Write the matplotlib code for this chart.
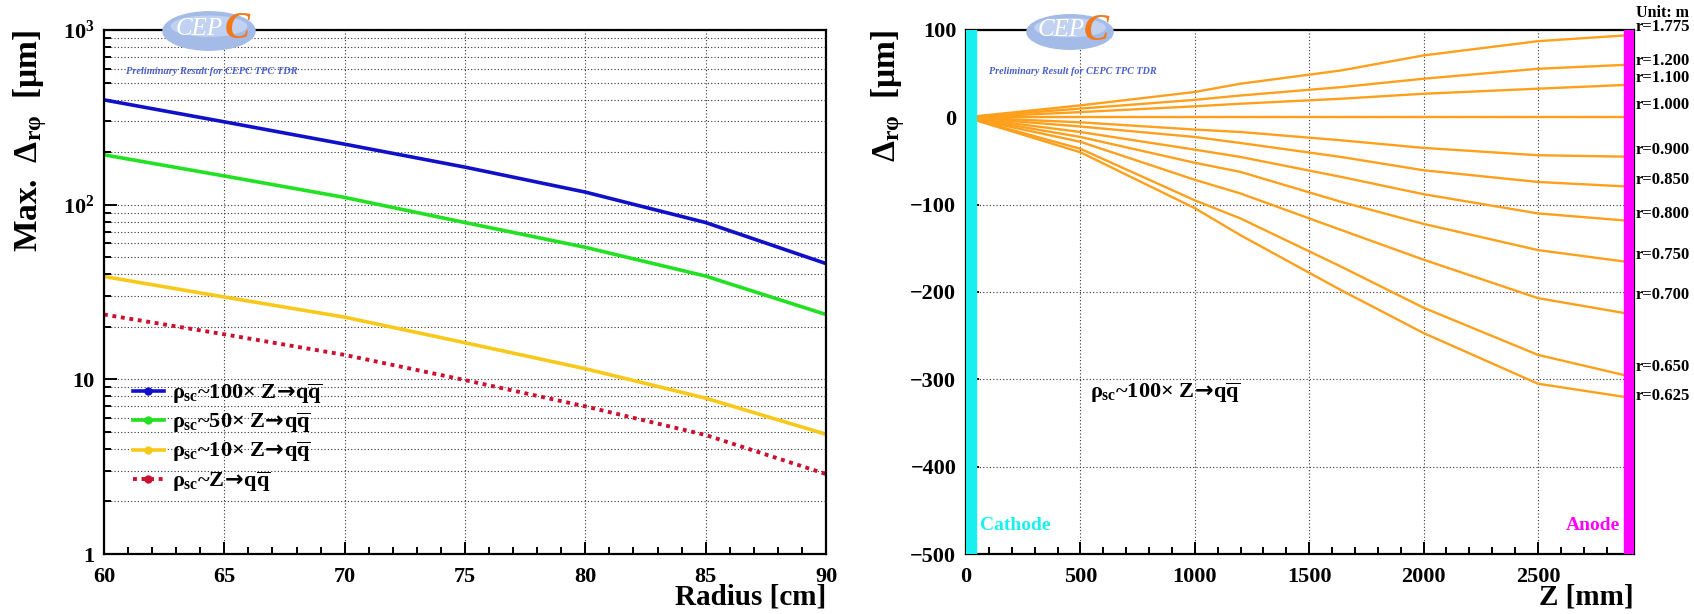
import matplotlib
matplotlib.use('Agg')
import matplotlib.pyplot as plt
from matplotlib.patches import Ellipse
from matplotlib.lines import Line2D
from matplotlib.ticker import MultipleLocator, LogLocator, FixedLocator, FixedFormatter, NullFormatter

plt.rcParams['font.family'] = ['Liberation Serif', 'DejaVu Serif']
plt.rcParams['font.weight'] = 'bold'
plt.rcParams['mathtext.fontset'] = 'custom'
plt.rcParams['mathtext.rm'] = 'Liberation Serif:bold'
plt.rcParams['mathtext.it'] = 'Liberation Serif:bold'
plt.rcParams['mathtext.bf'] = 'Liberation Serif:bold'
plt.rcParams['mathtext.sf'] = 'DejaVu Sans:bold'

ARROW = r'$\!\mathsf{\rightarrow}\!$'

# ---- left panel: max distortion vs radius ----
radius = [60, 65, 70, 75, 80, 85, 90]
max_100x = [398, 298, 222, 164, 118, 79, 46]
max_50x = [193, 146, 110, 79, 57, 39, 23.5]
max_10x = [38.8, 29.6, 22.7, 16.2, 11.5, 7.8, 4.85]
max_1x = [23.5, 18.1, 13.8, 9.9, 7.0, 4.8, 2.87]
legend_labels = [
    r'$\rho_{sc}$~100× Z' + ARROW + r'q$\overline{q}$',
    r'$\rho_{sc}$~50× Z' + ARROW + r'q$\overline{q}$',
    r'$\rho_{sc}$~10× Z' + ARROW + r'q$\overline{q}$',
    r'$\rho_{sc}$~Z' + ARROW + r'q$\overline{q}$',
]

# ---- right panel: distortion vs drift length for several radii ----
z_mm = [0, 500, 1000, 1200, 1640, 2000, 2500, 2875]
r_labels = ['r=1.775', 'r=1.200', 'r=1.100', 'r=1.000', 'r=0.900', 'r=0.850',
            'r=0.800', 'r=0.750', 'r=0.700', 'r=0.650', 'r=0.625']
r_label_y = [103, 65, 44.6, 13.7, -37.7, -72, -111, -158, -203, -286, -319]
d_1775 = [0, 13.7, 29, 38.5, 53.7, 70.9, 87.2, 93.7]
d_1200 = [0, 10, 20, 25, 34.6, 44.2, 55.6, 60]
d_1100 = [0, 6, 12.6, 15.6, 21.3, 27, 32.8, 37]
d_1000 = [0, 0, 0, 0, 0, 0, 0, 0]
d_0900 = [0, -5.7, -14, -16.8, -26.3, -35, -43.4, -45]
d_0850 = [0, -10.5, -22.5, -29.4, -45.4, -60.6, -74, -79]
d_0800 = [0, -16.8, -37, -45.4, -68.2, -88, -110, -118]
d_0750 = [0, -22.5, -52, -62.5, -96.8, -122, -152, -165]
d_0700 = [0, -28, -71.5, -87.2, -129, -163, -207, -224]
d_0650 = [0, -36, -95, -115.8, -171, -218, -272, -295]
d_0625 = [0, -40, -104, -135, -198, -247, -305, -320]
curves = [d_1775, d_1200, d_1100, d_1000, d_0900, d_0850,
          d_0800, d_0750, d_0700, d_0650, d_0625]

W, H = 1694, 614
fig = plt.figure(figsize=(W / 100, H / 100), dpi=100)


def px_axes(x0, x1, y0, y1):
    return fig.add_axes([x0 / W, 1 - y1 / H, (x1 - x0) / W, (y1 - y0) / H])


def style_axes(ax):
    for s in ax.spines.values():
        s.set_linewidth(1.6)
    ax.tick_params(which='both', direction='in', width=1.4, top=False, right=False,
                   labelsize=16)
    ax.tick_params(which='major', length=9)
    ax.tick_params(which='minor', length=5)
    ax.tick_params(axis='x', which='major', pad=9)
    ax.tick_params(axis='y', which='major', pad=7)
    for lab in ax.get_xticklabels() + ax.get_yticklabels():
        lab.set_fontweight('bold')


def add_logo(cx, cy, w, h):
    lax = fig.add_axes([(cx - w / 2) / W, 1 - (cy + h / 2) / H, w / W, h / H])
    lax.set_xlim(0, 1)
    lax.set_ylim(0, 1)
    lax.axis('off')
    lax.add_patch(Ellipse((0.5, 0.5), 0.98, 0.96, color='#a4bbe8'))
    lax.add_patch(Ellipse((0.5, 0.62), 0.8, 0.5, color='#c0d1f2'))
    lax.text(0.40, 0.55, 'CEP', color='white', style='italic', fontweight='normal',
             fontsize=18, ha='center', va='center')
    lax.text(0.80, 0.55, 'C', color='#f07a1a', style='italic', fontweight='bold',
             fontsize=27, ha='center', va='center')


# left
ax1 = px_axes(104, 826, 30, 554)
ax1.set_yscale('log')
ax1.plot(radius, max_100x, color='#1010c8', lw=2.6)
ax1.plot(radius, max_50x, color='#22e022', lw=2.6)
ax1.plot(radius, max_10x, color='#f8c81a', lw=2.6)
ax1.plot(radius, max_1x, color='#cc1030', lw=2.8, ls=(0, (1, 1.2)))
ax1.set_xlim(60, 90)
ax1.set_ylim(1, 1000)
ax1.xaxis.set_major_locator(MultipleLocator(5))
ax1.xaxis.set_minor_locator(MultipleLocator(1))
ax1.yaxis.set_major_locator(FixedLocator([1, 10, 100, 1000]))
ax1.yaxis.set_major_formatter(FixedFormatter(['1', '10', r'$10^2$', r'$10^3$']))
ax1.yaxis.set_minor_locator(LogLocator(base=10, subs=range(2, 10)))
ax1.yaxis.set_minor_formatter(NullFormatter())
ax1.grid(True, which='major', axis='x', color='#333333', ls=(0, (1, 2)), lw=0.8)
ax1.grid(True, which='both', axis='y', color='#333333', ls=(0, (1, 2)), lw=0.8)
style_axes(ax1)
ax1.set_xlabel('Radius [cm]', fontsize=21, fontweight='bold', loc='right', va='bottom')
ax1.xaxis.set_label_coords(1.0, -0.108)
ax1.set_ylabel(r'Max.  $\Delta_{r\varphi}$  [$\mu$m]', fontsize=24, fontweight='bold', loc='top')
ax1.yaxis.set_label_coords(-0.076, 1.0)

handles = [
    Line2D([], [], color='#1010c8', lw=2.6, marker='o', ms=5),
    Line2D([], [], color='#22e022', lw=2.6, marker='o', ms=5),
    Line2D([], [], color='#f8c81a', lw=2.6, marker='o', ms=5),
    Line2D([], [], color='#cc1030', lw=2.8, ls=(0, (1, 1.2)), marker='o', ms=5),
]
ax1.legend(handles, legend_labels, loc='lower left', bbox_to_anchor=(0.04, 0.115),
           frameon=False, fontsize=16, handlelength=1.4, handletextpad=0.35,
           labelspacing=0.22, borderpad=0, borderaxespad=0)

ax1.text(0.03, 0.92, 'Preliminary Result for CEPC TPC TDR', transform=ax1.transAxes,
         fontsize=7.5, style='italic', color='#4a5fc8', va='center')

# right
ax2 = px_axes(966, 1634, 30, 554)
for d in curves:
    ax2.plot(z_mm, d, color='#ffa01c', lw=1.7, zorder=2)
ax2.axvspan(0, 45, color='#18f0f0', zorder=3)
ax2.axvspan(2875, 2920, color='#ff00ff', zorder=3)
ax2.set_xlim(0, 2920)
ax2.set_ylim(-500, 100)
ax2.xaxis.set_major_locator(MultipleLocator(500))
ax2.xaxis.set_minor_locator(MultipleLocator(100))
ax2.yaxis.set_major_locator(MultipleLocator(100))
ax2.yaxis.set_minor_locator(MultipleLocator(20))
ax2.grid(True, which='major', color='#333333', ls=(0, (1, 2)), lw=0.8)
style_axes(ax2)
ax2.set_xlabel('Z [mm]', fontsize=21, fontweight='bold', loc='right', va='bottom')
ax2.xaxis.set_label_coords(1.0, -0.108)
ax2.set_ylabel(r'$\Delta_{r\varphi}$  [$\mu$m]', fontsize=24, fontweight='bold', loc='top')
ax2.yaxis.set_label_coords(-0.088, 1.0)

for lab, y in zip(r_labels, r_label_y):
    ax2.text(1.003, y, lab, transform=ax2.get_yaxis_transform(), fontsize=12,
             fontweight='bold', va='center', ha='left', clip_on=False)
ax2.text(1.003, 120, 'Unit: m', transform=ax2.get_yaxis_transform(), fontsize=11.5,
         fontweight='bold', va='center', ha='left', clip_on=False)

ax2.text(540, -315, r'$\rho_{sc}$~100× Z' + ARROW + r'q$\overline{q}$',
         fontsize=16, va='center')
ax2.text(60, -467, 'Cathode', color='#18f0f0', fontsize=14, va='center')
ax2.text(2860, -467, 'Anode', color='#ff00ff', fontsize=14, va='center', ha='right')
ax2.text(0.035, 0.92, 'Preliminary Result for CEPC TPC TDR', transform=ax2.transAxes,
         fontsize=7.3, style='italic', color='#4a5fc8', va='center')

add_logo(209, 31, 94, 40)
add_logo(1070, 32, 88, 36)

fig.savefig('out.png', dpi=100)
